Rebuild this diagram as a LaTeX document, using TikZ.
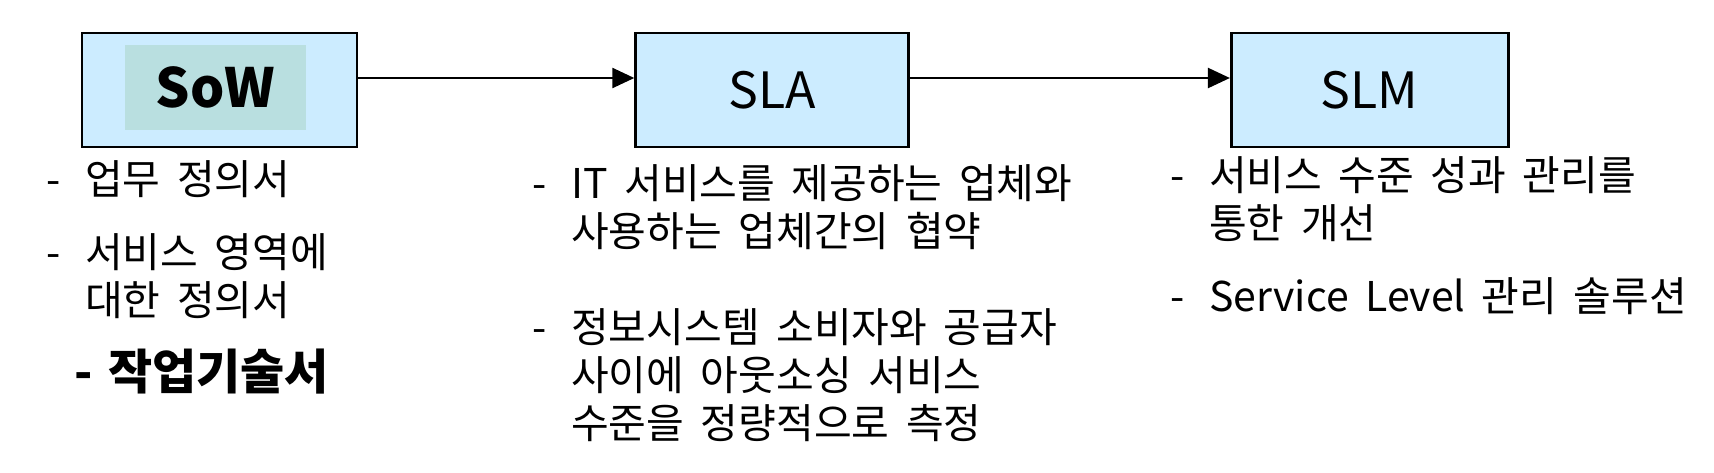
\documentclass[tikz,border=0pt]{standalone}
\usepackage{fontspec}
\usetikzlibrary{arrows.meta, positioning}
\newfontfamily\kr[WordSpace=1.8]{Noto Sans CJK KR}
\definecolor{boxBlue}{RGB}{204,236,255}
\definecolor{tagTeal}{RGB}{185,223,224}
\newcommand{\bul}{\makebox[39pt][l]{-}}
\newcommand{\ind}{\hspace*{39pt}}

\begin{document}
\begin{tikzpicture}[
  x=1pt, y=-1pt,
  stage/.style={
    rectangle, draw=black, line width=2.6pt, fill=boxBlue,
    minimum width=275pt, minimum height=114pt, inner sep=0pt
  },
  item/.style={
    anchor=base west, inner sep=0pt, align=left,
    font=\kr\fontsize{41}{48}\selectfont
  },
  arr/.style={-{Triangle[length=22pt, width=20pt]}, line width=2.4pt},
  node distance=276pt
]
  \useasboundingbox (0,0) rectangle (1714,472);

  \node[stage] (SoW) at (219.5,90) {};
  \node[fill=tagTeal, minimum width=181pt, minimum height=85pt, inner sep=0pt]
    (tag) at (215.5,87.5) {};
  \node[font=\kr\bfseries\fontsize{54}{54}\selectfont] (sowt) at (tag) {SoW};
  \node[stage, right=of SoW, minimum width=273pt,
    font=\kr\fontsize{50}{50}\selectfont] (SLA) {\raisebox{-7pt}{SLA}};
  \node[stage, right=320pt of SLA, minimum width=277pt,
    font=\kr\fontsize{50}{50}\selectfont] (SLM) {\raisebox{-7pt}{SLM}};

  \draw[arr] ([yshift=12pt]SoW.east) -- ([yshift=12pt]SLA.west);
  \draw[arr] ([yshift=12pt]SLA.east) -- ([yshift=12pt]SLM.west);

  % SoW (base = last line)
  \node[item] (s1) at (46,194) {\bul 업무 정의서};
  \node[item] (s2) at (46,315) {\bul 서비스 영역에\\ \ind 대한 정의서};
  \node[item, font=\kr\bfseries\fontsize{48}{48}\selectfont]
    (s3) at (74,389) {\makebox[34pt][l]{-}작업기술서};

  % SLA
  \node[item] (a1) at (532,246)
    {\bul IT 서비스를 제공하는 업체와\\ \ind 사용하는 업체간의 협약};
  \node[item] (a2) at (532,438)
    {\bul 정보시스템 소비자와 공급자\\ \ind 사이에 아웃소싱 서비스\\ \ind 수준을 정량적으로 측정};

  % SLM
  \node[item] (m1) at (1170,238) {\bul 서비스 수준 성과 관리를\\ \ind 통한 개선};
  \node[item] (m2) at (1170,311) {\bul Service Level 관리 솔루션};
\end{tikzpicture}
\end{document}
